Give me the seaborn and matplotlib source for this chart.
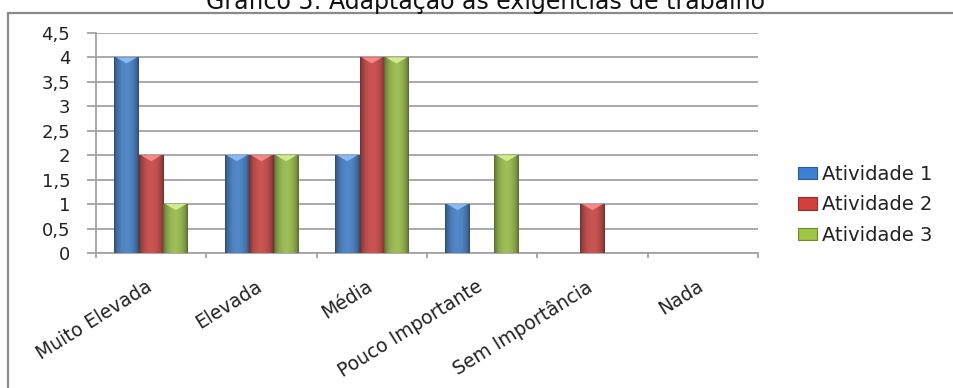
import numpy as np
import pandas as pd
import matplotlib
matplotlib.use("Agg")
import matplotlib.pyplot as plt
from matplotlib.lines import Line2D
from matplotlib.patches import Patch, Polygon
from matplotlib.transforms import ScaledTranslation
from matplotlib.colors import to_rgb
import seaborn as sns

# --- data -------------------------------------------------------------
categories = ["Muito Elevada", "Elevada", "Média", "Pouco Importante",
              "Sem Importância", "Nada"]
series_names = ["Atividade 1", "Atividade 2", "Atividade 3"]
atividade_1 = [4, 2, 2, 1, 0, 0]
atividade_2 = [2, 2, 4, 0, 1, 0]
atividade_3 = [1, 2, 4, 2, 0, 0]
y_ticks = [0, 0.5, 1, 1.5, 2, 2.5, 3, 3.5, 4, 4.5]
y_tick_labels = ["0", "0,5", "1", "1,5", "2", "2,5", "3", "3,5", "4", "4,5"]
title = "Gráfico 5: Adaptação às exigências de trabalho"

series_colors = ["#3C80D2", "#D33F3C", "#9DC643"]

df = pd.DataFrame({
    "categoria": categories * 3,
    "serie": sum([[s] * len(categories) for s in series_names], []),
    "valor": atividade_1 + atividade_2 + atividade_3,
})

# --- figure -----------------------------------------------------------
sns.set_theme(style="white")
plt.rcParams["font.family"] = ["DejaVu Sans"]

W, H = 954, 388
fig = plt.figure(figsize=(W / 100, H / 100), dpi=100)
fig.patch.set_facecolor("white")

left, right, bottom, top = 96, 758, 253, 33
ax = fig.add_axes([left / W, 1 - bottom / H, (right - left) / W, (bottom - top) / H])

sns.barplot(data=df, x="categoria", y="valor", hue="serie",
            order=categories, hue_order=series_names,
            palette=series_colors, width=0.67, gap=0, linewidth=0,
            errorbar=None, legend=False, ax=ax, zorder=3)

# glossy shading on each bar: dark edges, bright centre, light bevel on top
def shade(color, t):
    base = np.array(to_rgb(color))
    f = 0.55 + 0.50 * np.sin(np.pi * t) ** 0.6
    rgb = np.clip(base[None, :] * f[:, None], 0, 1)
    return rgb

ypx = 4.5 / (bottom - top)  # data units per pixel
for patch in list(ax.patches):
    h = patch.get_height()
    if h <= 0:
        continue
    x0, w = patch.get_x(), patch.get_width()
    col = patch.get_facecolor()
    t = np.linspace(0, 1, 64)
    img = shade(col, t)[None, :, :]
    ax.imshow(img, extent=[x0, x0 + w, 0, h], aspect="auto",
              interpolation="bilinear", zorder=3.5)
    light = np.clip(np.array(to_rgb(col)) + 0.22, 0, 1)
    tri = Polygon([[x0 + w * 0.08, h], [x0 + w * 0.92, h],
                   [x0 + w / 2, h - 6 * ypx]], closed=True,
                  facecolor=light, edgecolor="none", zorder=3.6)
    ax.add_patch(tri)

ax.set_xlim(-0.5, len(categories) - 0.5)
ax.set_ylim(0, 4.5)

# axes styling
grid_col = "#A3A3A3"
ax.set_yticks(y_ticks)
ax.set_yticklabels(y_tick_labels)
ax.yaxis.grid(True, color=grid_col, linewidth=1.3, zorder=0)
ax.xaxis.grid(False)
ax.set_axisbelow(True)
for s in ["top", "right"]:
    ax.spines[s].set_visible(False)
for s in ["left", "bottom"]:
    ax.spines[s].set_color(grid_col)
    ax.spines[s].set_linewidth(1.3)
    ax.spines[s].set_zorder(2)

ax.tick_params(axis="y", which="major", left=True, length=6.5, width=1.3,
               color=grid_col, pad=12, labelsize=13, labelcolor="#222222")
ax.set_xticks(range(len(categories)))
ax.set_xticks(np.arange(-0.5, len(categories)), minor=True)
ax.tick_params(axis="x", which="minor", bottom=True, length=3.6, width=1.3,
               color=grid_col)
ax.tick_params(axis="x", which="major", bottom=True, length=0, pad=17,
               labelsize=13.5, labelcolor="#222222")
ax.set_xticklabels(categories, rotation=32, ha="right", va="top")
for lbl in ax.get_xticklabels():
    lbl.set_transform(lbl.get_transform() + ScaledTranslation(0.04, 0, fig.dpi_scale_trans))
ax.set_xlabel("")
ax.set_ylabel("")

# legend
handles = [Patch(facecolor=c, edgecolor=np.array(to_rgb(c)) * 0.7, linewidth=0.8)
           for c in series_colors]
fig.legend(handles, series_names, loc="center left",
           bbox_to_anchor=(780 / W, 1 - 205 / H), frameon=False,
           fontsize=14, handlelength=1.0, handleheight=0.6,
           handletextpad=0.25, labelspacing=0.6, labelcolor="#222222")

# chart frame and title
frame_col = "#8A8A8A"
fig.add_artist(Line2D([8 / W, 1.0], [1 - 13 / H, 1 - 13 / H],
                      transform=fig.transFigure, color=frame_col, linewidth=1.6))
fig.add_artist(Line2D([8 / W, 8 / W], [0.0, 1 - 13 / H],
                      transform=fig.transFigure, color=frame_col, linewidth=1.6))
fig.text(485 / W, 1 - 9 / H, title, ha="center", va="baseline",
         fontsize=17, color="#111111")

fig.savefig("out.png", dpi=100, facecolor="white")
